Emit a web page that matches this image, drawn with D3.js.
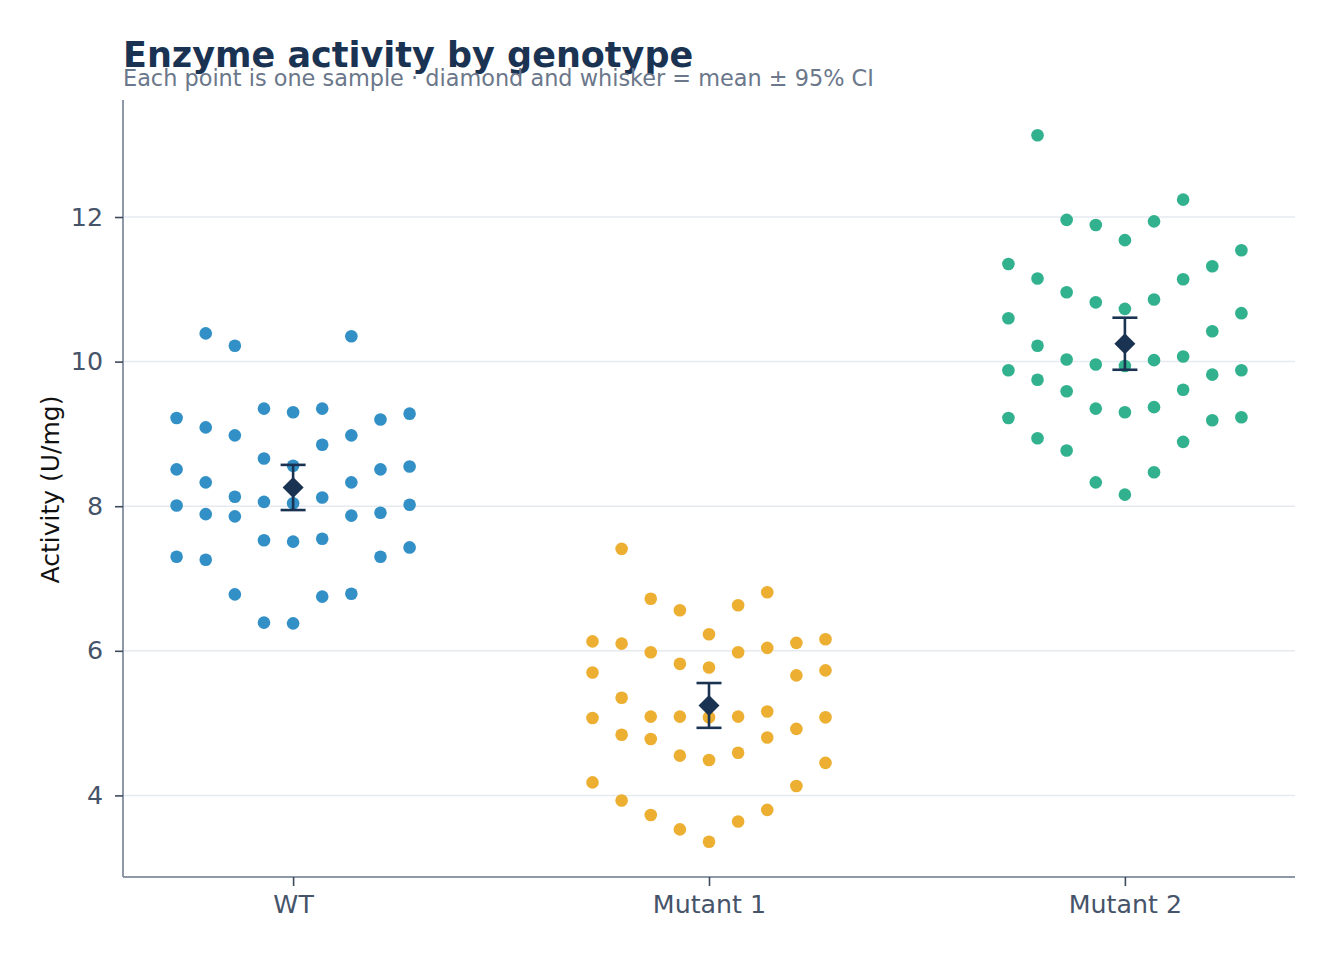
<!DOCTYPE html>
<html>
<head>
<meta charset="utf-8">
<script src="https://cdn.jsdelivr.net/npm/d3@7"></script>
<style>
  body { margin: 0; background: #fff; }
  text { font-family: "DejaVu Sans", sans-serif; }
</style>
</head>
<body>
<div id="chart"></div>
<script>
// ---- data ----
var genotypes = ["WT", "Mutant 1", "Mutant 2"]
var colors = ["#2b8cc4", "#ebac2b", "#2aae8a"]

// one value per sample, grouped by jitter column
var wtValues = [9.22, 8.51, 8.01, 7.30,
	10.39, 9.09, 8.33, 7.89, 7.26,
	10.22, 8.98, 8.13, 7.86, 6.78,
	9.35, 8.66, 8.06, 7.53, 6.39,
	9.30, 8.56, 8.04, 7.51, 6.38,
	9.35, 8.85, 8.12, 7.55, 6.75,
	10.35, 8.98, 8.33, 7.87, 6.79,
	9.20, 8.51, 7.91, 7.30,
	9.28, 8.55, 8.02, 7.43]
var mut1Values = [6.13, 5.70, 5.07, 4.18,
	7.41, 6.10, 5.35, 4.84, 3.93,
	6.72, 5.98, 5.09, 4.78, 3.73,
	6.56, 5.82, 5.09, 4.55, 3.53,
	6.23, 5.77, 5.08, 4.49, 3.36,
	6.63, 5.98, 5.09, 4.59, 3.64,
	6.81, 6.04, 5.16, 4.80, 3.80,
	6.11, 5.66, 4.92, 4.13,
	6.16, 5.73, 5.08, 4.45]
var mut2Values = [11.35, 10.60, 9.88, 9.22,
	13.13, 11.15, 10.22, 9.75, 8.94,
	11.96, 10.96, 10.03, 9.59, 8.77,
	11.89, 10.82, 9.96, 9.35, 8.33,
	11.68, 10.73, 9.94, 9.30, 8.16,
	11.94, 10.86, 10.02, 9.37, 8.47,
	12.24, 11.14, 10.07, 9.61, 8.89,
	11.32, 10.42, 9.82, 9.19,
	11.54, 10.67, 9.88, 9.23]
// jitter column of each sample (same layout for the three groups)
var slots = [-4, -4, -4, -4,
	-3, -3, -3, -3, -3,
	-2, -2, -2, -2, -2,
	-1, -1, -1, -1, -1,
	0, 0, 0, 0, 0,
	1, 1, 1, 1, 1,
	2, 2, 2, 2, 2,
	3, 3, 3, 3,
	4, 4, 4, 4]
var yTicks = [4, 6, 8, 10, 12]

var groupValues = [wtValues, mut1Values, mut2Values]

//--------------------------------------------------
// layout
//--------------------------------------------------
var W = 1334, H = 958
var margin = {top: 100, right: 39, bottom: 81, left: 123}
var width = W - margin.left - margin.right,
	height = H - margin.top - margin.bottom

var svg = d3.select("#chart").append("svg")
	.attr("width", W)
	.attr("height", H)

svg.append("rect").attr("width", W).attr("height", H).attr("fill", "#fff")

var all = d3.merge(groupValues)
var lo = d3.min(all), hi = d3.max(all), pad = (hi - lo) * 0.05

var x = d3.scalePoint().domain(genotypes).range([0, width]).padding(0.409)
var y = d3.scaleLinear().domain([lo - pad, hi + pad]).range([height, 0])
var jitter = d3.scaleLinear().domain([-4, 4]).range([-116.5, 116.5])

var g = svg.append("g").attr("transform", "translate(" + margin.left + "," + margin.top + ")")

// grid
g.append("g").selectAll("line")
	.data(yTicks).enter().append("line")
	.attr("x1", 0).attr("x2", width)
	.attr("y1", function(d) { return y(d) }).attr("y2", function(d) { return y(d) })
	.attr("stroke", "#e6eaef").attr("stroke-width", 1.5)

// points
genotypes.forEach(function(name, gi) {
	var vals = groupValues[gi]
	g.append("g").selectAll("circle")
		.data(vals).enter().append("circle")
		.attr("cx", function(d, i) { return x(name) + jitter(slots[i]) })
		.attr("cy", function(d) { return y(d) })
		.attr("r", 6.3)
		.attr("fill", colors[gi])
		.attr("fill-opacity", 0.97)
})

// mean +- 95% CI
var stats = genotypes.map(function(name, gi) {
	var vals = groupValues[gi]
	var m = d3.mean(vals), sd = d3.deviation(vals)
	var half = 2.02 * sd / Math.sqrt(vals.length)
	return {name: name, mean: m, lo: m - half, hi: m + half}
})
var navy = "#1b3352"
var sg = g.append("g").selectAll("g").data(stats).enter().append("g")
	.attr("transform", function(d) { return "translate(" + x(d.name) + ",0)" })
sg.append("line")
	.attr("y1", function(d) { return y(d.lo) }).attr("y2", function(d) { return y(d.hi) })
	.attr("stroke", navy).attr("stroke-width", 2.6)
sg.selectAll("line.cap")
	.data(function(d) { return [d.lo, d.hi] }).enter().append("line")
	.attr("class", "cap")
	.attr("x1", -12.5).attr("x2", 12.5)
	.attr("y1", function(d) { return y(d) }).attr("y2", function(d) { return y(d) })
	.attr("stroke", navy).attr("stroke-width", 2.6)
sg.append("path")
	.attr("d", "M0,-10.5L10.5,0L0,10.5L-10.5,0Z")
	.attr("transform", function(d) { return "translate(0," + y(d.mean) + ")" })
	.attr("fill", navy)

// axes
var yAxis = g.append("g")
	.call(d3.axisLeft(y).tickValues(yTicks).tickSize(8).tickPadding(12).tickFormat(d3.format("d")))
var xAxis = g.append("g")
	.attr("transform", "translate(0," + height + ")")
	.call(d3.axisBottom(x).tickSize(9).tickPadding(9))

;[yAxis, xAxis].forEach(function(ax) {
	ax.select(".domain").attr("stroke", "#8e98a8").attr("stroke-width", 2)
	ax.selectAll(".tick line").attr("stroke", "#3d4a5c").attr("stroke-width", 1.6)
	ax.selectAll(".tick text").attr("fill", "#46546a")
		.style("font-size", "25.3px").style("font-family", "DejaVu Sans, sans-serif")
})
// plain spines, no end ticks
yAxis.select(".domain").attr("d", "M0," + height + "V0")
xAxis.select(".domain").attr("d", "M0,0H" + width)

// texts
svg.append("text")
	.attr("x", 123).attr("y", 67)
	.attr("fill", "#1b3352")
	.style("font-size", "35px").style("font-weight", "bold")
	.text("Enzyme activity by genotype")
svg.append("text")
	.attr("x", 123).attr("y", 86)
	.attr("fill", "#6b778a")
	.style("font-size", "22.4px")
	.text("Each point is one sample · diamond and whisker = mean ± 95% CI")
svg.append("text")
	.attr("transform", "translate(59," + (margin.top + height / 2 + 1) + ") rotate(-90)")
	.attr("text-anchor", "middle")
	.attr("fill", "#111")
	.style("font-size", "25px")
	.text("Activity (U/mg)")
</script>
</body>
</html>
